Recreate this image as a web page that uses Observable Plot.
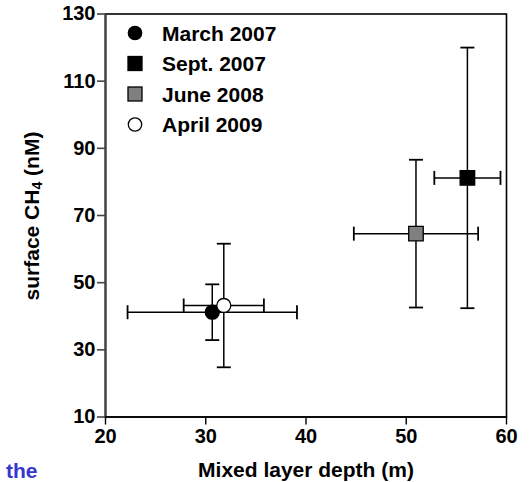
<!DOCTYPE html>
<html>
<head>
<meta charset="utf-8">
<script src="https://cdn.jsdelivr.net/npm/d3@7"></script>
<script src="https://cdn.jsdelivr.net/npm/@observablehq/plot@0.6"></script>
<style>
  body { margin: 0; background: #fff; }
  #chart { position: relative; width: 532px; height: 482px; }
  svg { font-family: "Liberation Sans", Arial, sans-serif; }
</style>
</head>
<body>
<div id="chart"></div>
<script>
// ---- data ----
const series   = ["March 2007", "Sept. 2007", "June 2008", "April 2009"];
const depth    = [30.65, 56.1, 50.97, 31.8];   // mixed layer depth (m)
const depthErr = [8.45, 3.3, 6.2, 4.0];
const ch4      = [41.2, 81.2, 64.6, 43.2];     // surface CH4 (nM)
const ch4Err   = [8.3, 38.8, 22.0, 18.4];
const symbols  = ["circle", "square", "square", "circle"];
const fills    = ["#000000", "#000000", "#808080", "#ffffff"];

const xTicks = [20, 30, 40, 50, 60];
const yTicks = [10, 30, 50, 70, 90, 110, 130];

const rows = series.map((s, i) => ({
  series: s, x: depth[i], y: ch4[i],
  x1: depth[i] - depthErr[i], x2: depth[i] + depthErr[i],
  y1: ch4[i] - ch4Err[i], y2: ch4[i] + ch4Err[i],
  symbol: symbols[i], fill: fills[i]
}));

const hCap = { draw(ctx, size) { const r = Math.sqrt(size / Math.PI); ctx.moveTo(-r, 0); ctx.lineTo(r, 0); } };
const vCap = { draw(ctx, size) { const r = Math.sqrt(size / Math.PI); ctx.moveTo(0, -r); ctx.lineTo(0, r); } };

const chart = Plot.plot({
  width: 532,
  height: 482,
  marginLeft: 105,
  marginRight: 26,
  marginTop: 13.5,
  marginBottom: 65.5,
  style: { fontFamily: "'Liberation Sans', Arial, sans-serif", color: "#000", background: "#fff" },
  x: { domain: [20, 60] },
  y: { domain: [10, 130] },
  marks: [
    Plot.frame({ stroke: "#000", strokeWidth: 1.6 }),
    Plot.axisY({ ticks: yTicks, tickSize: 8, tickPadding: 2, label: null, stroke: "#444", strokeWidth: 1.6, fontSize: 20, fontWeight: "bold", fill: "#000" }),
    Plot.axisX({ ticks: xTicks, tickSize: 8, tickPadding: 4, label: null, stroke: "#000", strokeWidth: 1.4, fontSize: 20, fontWeight: "bold", fill: "#000" }),
    Plot.ruleX([20], { stroke: "#444", strokeWidth: 2.2 }),
    Plot.ruleY([10], { stroke: "#000", strokeWidth: 1.6 }),
    // error bars
    Plot.ruleX(rows, { x: "x", y1: "y1", y2: "y2", stroke: "#000", strokeWidth: 1.5 }),
    Plot.ruleY(rows, { y: "y", x1: "x1", x2: "x2", stroke: "#000", strokeWidth: 1.5 }),
    Plot.dot(rows, { x: "x", y: "y1", symbol: () => hCap, r: 7, stroke: "#000", strokeWidth: 1.8, fill: "none" }),
    Plot.dot(rows, { x: "x", y: "y2", symbol: () => hCap, r: 7, stroke: "#000", strokeWidth: 1.8, fill: "none" }),
    Plot.dot(rows, { x: "x1", y: "y", symbol: () => vCap, r: 7, stroke: "#000", strokeWidth: 1.8, fill: "none" }),
    Plot.dot(rows, { x: "x2", y: "y", symbol: () => vCap, r: 7, stroke: "#000", strokeWidth: 1.8, fill: "none" }),
    // markers
    Plot.dot(rows.filter(d => d.symbol === "circle"), { x: "x", y: "y", symbol: "circle", r: 7, fill: "fill", stroke: "#000", strokeWidth: 1.3 }),
    Plot.dot(rows.filter(d => d.symbol === "square"), { x: "x", y: "y", symbol: "square", r: 8.2, fill: "fill", stroke: "#000", strokeWidth: 1.3 }),
    // x-axis label
    Plot.text(["Mixed layer depth (m)"], { frameAnchor: "bottom", dy: 60, text: d => d, fontSize: 21, fontWeight: "bold", fill: "#000", lineAnchor: "bottom" }),
    // stray text fragment at bottom-left
    Plot.text(["the"], { frameAnchor: "bottom-left", dx: -68, dy: 61, text: d => d, fontSize: 21, fontWeight: "bold", fill: "#3535cf", textAnchor: "end", lineAnchor: "bottom" })
  ]
});

document.getElementById("chart").appendChild(chart);

const svg = d3.select(chart);

// y-axis label with subscript
const yl = svg.append("text")
  .attr("transform", "translate(33,216) rotate(-90)")
  .attr("text-anchor", "middle")
  .attr("dominant-baseline", "middle")
  .attr("font-size", 21).attr("font-weight", "bold").attr("fill", "#000");
yl.append("tspan").text("surface CH");
yl.append("tspan").attr("font-size", 14).attr("dy", 5).text("4");
yl.append("tspan").attr("dy", -5).text(" (nM)");

// legend
const lg = svg.append("g").attr("transform", "translate(135,33)").attr("text-anchor", "start");
series.forEach((s, i) => {
  const g = lg.append("g").attr("transform", `translate(0,${i * 30.5})`);
  if (symbols[i] === "circle") {
    g.append("circle").attr("r", 6.7).attr("fill", fills[i]).attr("stroke", "#000").attr("stroke-width", 1.3);
  } else {
    g.append("rect").attr("x", -7).attr("y", -7).attr("width", 14).attr("height", 14)
      .attr("fill", fills[i]).attr("stroke", "#000").attr("stroke-width", 1.3);
  }
  g.append("text").attr("x", 27).attr("dy", "0.36em").attr("text-anchor", "start")
    .attr("font-size", 21).attr("font-weight", "bold").attr("fill", "#000").text(s);
});
</script>
</body>
</html>
